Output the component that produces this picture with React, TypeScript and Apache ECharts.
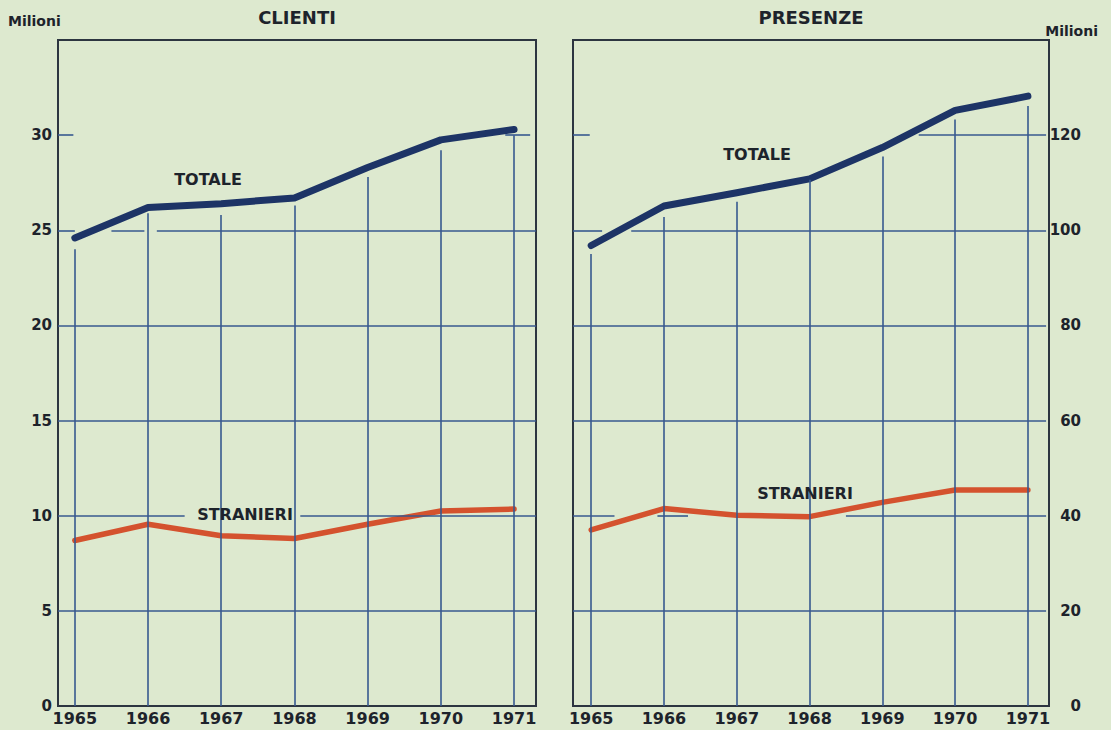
import React, { useEffect, useRef } from "react";
import * as echarts from "echarts";

// ---- data ----
const years = [1965, 1966, 1967, 1968, 1969, 1970, 1971];
const clientiTotale = [24.6, 26.2, 26.4, 26.7, 28.3, 29.75, 30.3];
const clientiStranieri = [8.7, 9.55, 8.95, 8.8, 9.55, 10.25, 10.35];
const presenzeTotale = [96.8, 105.1, 107.9, 110.8, 117.4, 125.2, 128.2];
const presenzeStranieri = [37.0, 41.5, 40.1, 39.8, 42.8, 45.4, 45.4];

const clientiTicks = [0, 5, 10, 15, 20, 25, 30];
const presenzeTicks = [0, 20, 40, 60, 80, 100, 120];

// where the vertical grid lines stop (just under the TOTALE line)
const clientiGridTop = [24.0, 25.9, 25.8, 26.3, 27.8, 29.2, 30.0];
const presenzeGridTop = [95, 102.8, 106, 110.6, 115.5, 123.3, 126.1];

// horizontal grid segments: [value, fromYear, toYear]
const clientiGridRows = [
  [5, 1964.77, 1971.3],
  [10, 1964.77, 1966.5],
  [10, 1968.08, 1971.3],
  [15, 1964.77, 1971.3],
  [20, 1964.77, 1971.3],
  [25, 1964.77, 1965.0],
  [25, 1965.5, 1965.95],
  [25, 1966.12, 1971.3],
  [30, 1964.77, 1964.98],
  [30, 1970.88, 1971.22],
];
const presenzeGridRows = [
  [20, 1964.75, 1971.25],
  [40, 1964.75, 1965.32],
  [40, 1965.91, 1966.33],
  [40, 1968.5, 1971.25],
  [60, 1964.75, 1971.25],
  [80, 1964.75, 1971.25],
  [100, 1964.75, 1965.15],
  [100, 1965.55, 1971.25],
  [120, 1964.75, 1964.98],
  [120, 1969.5, 1971.25],
];

const BG = "#dde9cf";
const GRID = "#37598f";
const BORDER = "#2c3540";
const NAVY = "#1d3466";
const ORANGE = "#d4522e";
const TEXT = "#1d232b";
const FONT = "DejaVu Sans";

function gridMarkLines(tops: number[], rows: number[][]) {
  const v = years.map((y, i) => [{ coord: [y, 0] }, { coord: [y, tops[i]] }]);
  const h = rows.map((r) => [{ coord: [r[1], r[0]] }, { coord: [r[2], r[0]] }]);
  return [...v, ...h];
}

function helperSeries(idx: number, tops: number[], rows: number[][]) {
  return {
    type: "line",
    xAxisIndex: idx,
    yAxisIndex: idx,
    data: [],
    z: 1,
    silent: true,
    markLine: {
      silent: true,
      symbol: ["none", "none"],
      label: { show: false },
      emphasis: { disabled: true },
      lineStyle: { color: GRID, width: 1.6, type: "solid", opacity: 1 },
      data: gridMarkLines(tops, rows),
    },
  };
}

function dataSeries(idx: number, name: string, values: number[], color: string, width: number) {
  return {
    type: "line",
    name,
    xAxisIndex: idx,
    yAxisIndex: idx,
    data: years.map((y, i) => [y, values[i]]),
    symbol: "none",
    z: 3,
    silent: true,
    lineStyle: { color, width, cap: "round", join: "round" },
  };
}

const labelStyle = {
  color: TEXT,
  fontFamily: FONT,
  fontWeight: "bold",
};

function txt(text: string, x: number, y: number, size: number, align = "center") {
  return {
    type: "text",
    x,
    y,
    z: 10,
    style: {
      text,
      fill: TEXT,
      font: `bold ${size}px "${FONT}"`,
      textAlign: align,
      textVerticalAlign: "middle",
      align,
      verticalAlign: "middle",
    },
  };
}

export default function App() {
  const ref = useRef<HTMLDivElement>(null);

  useEffect(() => {
    if (!ref.current) return;
    const chart = echarts.init(ref.current, null, { renderer: "svg" });
    const xAxisBase = (idx: number, min: number, max: number) => ({
      type: "value",
      gridIndex: idx,
      min,
      max,
      splitLine: { show: false },
      axisLine: { show: false },
      axisTick: { show: false },
      axisLabel: {
        ...labelStyle,
        fontSize: 16,
        margin: 4,
        customValues: years,
        formatter: (v: number) => (years.includes(v) ? String(v) : ""),
      },
    });
    chart.setOption({
      animation: false,
      backgroundColor: BG,
      grid: [
        { left: 58, top: 40, width: 478, height: 666, show: true, borderColor: BORDER, borderWidth: 2, backgroundColor: "transparent" },
        { left: 573, top: 40, width: 476, height: 666, show: true, borderColor: BORDER, borderWidth: 2, backgroundColor: "transparent" },
      ],
      xAxis: [xAxisBase(0, 1964.77, 1971.3), xAxisBase(1, 1964.75, 1971.29)],
      yAxis: [
        {
          type: "value",
          gridIndex: 0,
          min: 0,
          max: 35,
          splitLine: { show: false },
          axisLine: { show: false },
          axisTick: { show: false },
          axisLabel: {
            ...labelStyle,
            fontSize: 15,
            margin: 6,
            customValues: clientiTicks,
            formatter: (v: number) => (clientiTicks.includes(v) ? String(v) : ""),
          },
        },
        {
          type: "value",
          gridIndex: 1,
          position: "right",
          min: 0,
          max: 140,
          splitLine: { show: false },
          axisLine: { show: false },
          axisTick: { show: false },
          axisLabel: {
            ...labelStyle,
            fontSize: 15,
            margin: 32,
            align: "right",
            customValues: presenzeTicks,
            formatter: (v: number) => (presenzeTicks.includes(v) ? String(v) : ""),
          },
        },
      ],
      series: [
        helperSeries(0, clientiGridTop, clientiGridRows),
        helperSeries(1, presenzeGridTop, presenzeGridRows),
        dataSeries(0, "Clienti totale", clientiTotale, NAVY, 7),
        dataSeries(0, "Clienti stranieri", clientiStranieri, ORANGE, 5.5),
        dataSeries(1, "Presenze totale", presenzeTotale, NAVY, 7),
        dataSeries(1, "Presenze stranieri", presenzeStranieri, ORANGE, 5.5),
      ],
      graphic: [
        txt("CLIENTI", 297, 17, 18),
        txt("PRESENZE", 811, 17, 18),
        txt("Milioni", 8, 21, 14, "left"),
        txt("Milioni", 1098, 31, 14, "right"),
        txt("TOTALE", 208, 179, 16),
        txt("STRANIERI", 245, 514, 16),
        txt("TOTALE", 757, 154, 16),
        txt("STRANIERI", 805, 493, 16),
      ],
    });
    return () => chart.dispose();
  }, []);

  return (
    <div
      ref={ref}
      style={{ position: "fixed", left: 0, top: 0, width: 1111, height: 730, background: BG }}
    />
  );
}
